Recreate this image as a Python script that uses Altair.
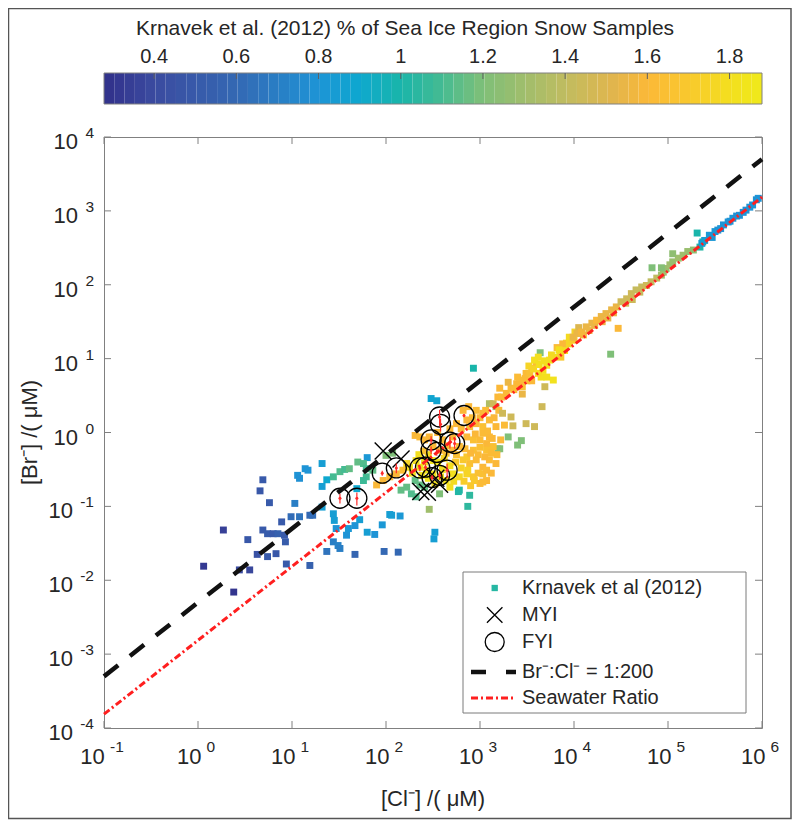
import altair as alt
import numpy as np
import pandas as pd

# ---------------- data (log10 units) ----------------
# Krnavek et al. (2012) snow samples: log10 [Cl-], log10 [Br-], % sea-ice region
krn_cl_log = [
    0.06, 0.27, 0.38, 0.44, 0.55,
    0.69, 0.66, 0.76, 0.53, 0.69, 0.74, 0.80, 0.85, 0.92, 0.89, 0.93, 0.63, 0.74, 0.83, 0.94,
    1.19, 1.03, 0.99, 1.08, 1.19, 1.22, 1.37, 1.67, 1.98, 2.13,
    1.06, 1.08, 1.14, 1.17, 1.32, 1.32, 1.37, 1.44, 1.45, 1.47, 1.44, 1.49, 1.51, 1.58, 1.60,
    1.67, 1.72, 1.80, 1.88, 1.96, 2.04, 2.06, 2.15, 1.80, 1.69, 2.52, 2.51, 2.48, 2.54, 1.32,
    2.93, 1.44, 1.51, 1.56, 1.61, 1.70, 1.76, 1.79, 1.79, 1.76, 1.86, 2.00, 2.07, 2.16, 2.22,
    2.27, 2.32, 2.31, 2.36, 2.41, 2.46, 2.57, 2.77, 2.78, 2.89, 2.87, 3.19, 3.10, 3.17, 3.30,
    3.40, 3.44, 3.21,
    1.90, 1.97, 2.04, 2.11, 2.18, 2.25, 2.32, 2.36, 2.41, 2.31, 2.36, 2.41, 2.46, 2.50, 2.57,
    2.64, 2.71, 2.78, 2.86, 2.93, 3.00, 3.07, 3.14, 2.82, 2.89, 2.96, 3.03, 3.10, 3.17, 2.71,
    2.78, 2.86, 2.93, 3.00, 3.07, 3.03, 2.64, 2.68, 2.86, 2.89, 2.96, 3.03, 3.10, 3.17, 2.82,
    2.96, 3.03, 3.14, 3.19, 2.50, 2.43, 2.50, 2.71, 3.03, 3.10, 3.07, 2.93, 2.86, 3.07, 2.87,
    2.94, 3.03,
    2.45, 2.55, 2.60, 2.62, 2.68, 2.74, 2.80, 2.75, 2.84, 2.90, 2.98, 3.05, 3.12, 3.00, 2.95,
    3.08, 3.13, 2.80, 2.75, 2.92, 3.00, 3.06, 2.88, 2.68, 2.60, 2.55, 2.65, 2.58, 2.72, 2.83,
    2.90, 2.98, 3.12, 3.18, 3.22, 3.26, 3.15, 3.20, 2.40, 2.35, 2.28, 2.22, 2.45, 2.38, 2.52,
    3.21, 3.23, 3.28, 3.33, 3.39, 3.46, 3.49, 3.55, 3.60, 3.24, 3.33, 3.35, 3.49, 3.58, 3.66,
    3.69, 3.65, 3.71, 3.78, 3.67, 3.71, 3.74, 3.79, 3.85, 3.90, 3.92, 3.95, 4.01, 3.64, 4.39,
    3.40, 3.52, 3.58, 3.62, 3.82, 3.88, 4.05, 3.30, 3.45, 3.50,
    3.36, 3.42, 3.48, 3.53, 3.57, 3.63, 3.68, 3.76, 3.84, 3.86, 3.95, 4.00, 4.10, 4.16, 4.22,
    4.30, 4.36, 4.42, 4.55, 4.62, 4.70, 3.55, 3.62, 3.45,
    3.99, 4.03, 4.08, 4.13, 4.19, 4.24, 4.29, 4.34, 4.40, 4.45, 4.47, 4.50, 4.56, 4.61, 4.66,
    4.72, 4.77, 4.82, 4.88, 4.93, 4.95, 4.98, 5.02, 5.05, 5.11, 5.16, 5.21, 5.27, 4.83, 4.93,
    5.05, 5.31, 5.37, 5.34, 5.36, 5.39, 5.44, 5.50, 5.53, 5.59, 5.64, 5.69, 5.76, 5.83, 5.90,
    5.94, 5.96, 5.47, 5.56, 5.66, 5.73, 5.80, 5.87,
]
krn_br_log = [
    -1.81, -1.32, -2.16, -1.86, -1.86,
    -0.64, -0.79, -0.95, -1.45, -1.32, -1.37, -1.37, -1.37, -1.39, -1.21, -1.48, -1.65, -1.68, -1.64, -1.78,
    -1.80, -0.96, -1.14, -1.14, -1.12, -1.12, -1.61, -1.65, -1.61, -1.62,
    -0.58, -0.62, -0.49, -0.51, -0.42, -0.73, -0.64, -1.10, -1.19, -1.30, -1.48, -1.53, -1.57, -1.39, -1.30,
    -1.26, -1.18, -1.35, -1.38, -1.25, -1.11, -1.12, -1.13, -0.34, -0.76, -1.35, -1.44, 0.46, 0.43, -1.01,
    0.87, -0.60, -0.53, -0.50, -0.49, -0.40, -0.42, -0.49, -0.60, -0.65, -0.51, -0.31, -0.28, -0.78, -0.74,
    -0.83, -0.87, -0.65, -0.71, -0.74, -1.04, -0.83, -0.80, -0.78, -0.85, -1.00, -0.22, 0.39, 0.35, -0.06,
    -0.17, -0.11, -0.22,
    -0.71, -0.65, -0.60, -0.56, -0.51, -0.47, -0.38, -0.47, -0.40, -0.04, -0.06, -0.10, -0.06, -0.19, -0.24,
    -0.28, -0.24, -0.19, -0.06, -0.10, -0.10, -0.15, -0.19, -0.37, -0.42, -0.37, -0.47, -0.37, -0.42, -0.56,
    -0.60, -0.56, -0.60, -0.69, -0.65, -0.56, -0.65, -0.74, 0.17, 0.08, 0.12, 0.08, 0.17, 0.08, 0.30,
    0.30, 0.26, 0.39, 0.48, -0.38, -0.51, -0.56, -0.06, -0.01, -0.06, -0.24, -0.24, -0.33, -0.51, -0.51,
    -0.65, -0.67,
    -0.30, -0.40, -0.50, -0.35, -0.45, -0.40, -0.48, -0.30, -0.22, -0.28, -0.30, -0.33, -0.28, -0.20, -0.02,
    0.02, -0.08, 0.05, 0.12, 0.20, 0.20, 0.30, 0.35, 0.05, -0.10, 0.00, -0.18, -0.60, -0.66, -0.66,
    -0.72, -0.55, -0.55, -0.30, -0.10, 0.10, 0.20, 0.30, -0.25, -0.30, -0.55, -0.42, -0.62, -0.58, -0.70,
    0.60, 0.48, 0.53, 0.60, 0.66, 0.71, 0.80, 0.87, 0.93, 0.26, 0.21, 0.09, 0.12, 0.08, 0.35,
    0.62, 0.75, 0.75, 0.71, 0.84, 0.91, 0.98, 1.02, 1.07, 1.11, 1.21, 1.29, 1.36, 1.08, 1.06,
    0.75, 0.90, 0.98, 1.02, 1.15, 1.20, 1.42, 0.68, 0.62, 0.70,
    0.58, 0.66, 0.73, 0.80, 0.86, 0.92, 0.97, 1.05, 1.12, 1.02, 1.20, 1.25, 1.32, 1.38, 1.45,
    1.50, 1.55, 1.62, 1.75, 1.80, 1.90, 0.70, 0.80, 0.52,
    1.29, 1.34, 1.36, 1.43, 1.48, 1.52, 1.57, 1.61, 1.66, 1.70, 1.41, 1.77, 1.81, 1.88, 1.93,
    1.97, 1.99, 2.04, 2.09, 2.13, 2.17, 2.22, 2.27, 2.31, 2.36, 2.40, 2.45, 2.47, 2.23, 2.23,
    2.42, 2.70, 2.58, 2.51, 2.56, 2.60, 2.67, 2.72, 2.74, 2.81, 2.85, 2.90, 2.94, 3.01, 3.08,
    3.15, 3.17, 2.64, 2.76, 2.86, 2.93, 2.98, 3.05,
]
krn_pct = [
    0.32, 0.35, 0.30, 0.40, 0.38,
    0.50, 0.48, 0.50, 0.48, 0.50, 0.52, 0.50, 0.55, 0.50, 0.50, 0.52, 0.45, 0.50, 0.48, 0.50,
    0.55, 0.70, 0.62, 0.65, 0.60, 0.62, 0.65, 0.58, 0.60, 0.60,
    0.80, 0.78, 0.80, 0.80, 0.85, 0.85, 0.90, 0.85, 0.85, 0.80, 0.70, 0.72, 0.70, 0.80, 0.82,
    0.80, 0.85, 0.85, 0.80, 0.82, 0.85, 0.85, 0.82, 0.82, 0.90, 0.85, 0.85, 0.88, 0.88, 0.85,
    1.00, 1.10, 1.12, 1.10, 1.15, 1.15, 1.12, 1.10, 1.10, 1.08, 1.15, 1.20, 1.20, 1.15, 1.15,
    1.12, 1.12, 1.15, 1.15, 1.15, 1.30, 1.20, 1.02, 1.02, 1.05, 1.05, 1.25, 1.35, 1.30, 1.20,
    1.20, 1.20, 1.22,
    1.60, 1.60, 1.62, 1.60, 1.65, 1.80, 1.80, 1.82, 1.80, 1.60, 1.62, 1.60, 1.60, 1.62, 1.60,
    1.65, 1.60, 1.62, 1.60, 1.65, 1.62, 1.60, 1.65, 1.70, 1.65, 1.62, 1.60, 1.62, 1.60, 1.80,
    1.78, 1.75, 1.70, 1.62, 1.60, 1.65, 1.82, 1.80, 1.60, 1.62, 1.60, 1.65, 1.62, 1.60, 1.60,
    1.62, 1.60, 1.45, 1.60, 1.82, 1.85, 1.82, 1.60, 1.62, 1.60, 1.65, 1.65, 1.70, 1.62, 1.75,
    1.70, 1.62,
    1.80, 1.82, 1.80, 1.75, 1.80, 1.70, 1.75, 1.65, 1.62, 1.60, 1.62, 1.60, 1.62, 1.65, 1.60,
    1.62, 1.60, 1.62, 1.60, 1.62, 1.60, 1.62, 1.60, 1.60, 1.62, 1.60, 1.65, 1.82, 1.78, 1.72,
    1.70, 1.65, 1.60, 1.62, 1.60, 1.62, 1.60, 1.62, 1.65, 1.80, 1.80, 1.75, 1.85, 1.82, 1.80,
    1.60, 1.62, 1.60, 1.62, 1.60, 1.65, 1.62, 1.65, 1.62, 1.45, 1.45, 1.45, 1.45, 1.45, 1.45,
    1.45, 1.80, 1.80, 1.82, 1.80, 1.82, 1.80, 1.80, 1.82, 1.80, 1.80, 1.78, 1.75, 1.20, 1.20,
    1.62, 1.75, 1.80, 1.80, 1.62, 1.60, 1.50, 1.55, 1.65, 1.60,
    1.62, 1.60, 1.62, 1.65, 1.75, 1.80, 1.80, 1.78, 1.80, 1.70, 1.75, 1.70, 1.58, 1.55, 1.55,
    1.55, 1.55, 1.55, 1.45, 1.45, 1.42, 1.60, 1.78, 1.55,
    1.55, 1.55, 1.58, 1.55, 1.55, 1.60, 1.55, 1.55, 1.55, 1.55, 1.60, 1.45, 1.45, 1.45, 1.42,
    1.42, 1.45, 1.40, 1.40, 1.30, 1.30, 1.28, 1.30, 1.28, 1.30, 1.30, 1.28, 1.25, 1.20, 1.22,
    1.25, 1.00, 1.00, 1.02, 0.85, 0.85, 0.82, 0.82, 0.80, 0.80, 0.80, 0.80, 0.78, 0.80, 0.80,
    0.78, 0.80, 0.82, 0.80, 0.80, 0.78, 0.80, 0.80,
]

# multi-year ice (MYI) samples
myi_cl_log = [1.97, 2.16, 2.37, 2.44, 2.57, 2.53]
myi_br_log = [-0.25, -0.36, -0.80, -0.81, -0.70, -0.62]

# first-year ice (FYI) samples with relative Br- uncertainty
fyi_cl_log = [1.51, 1.69, 1.96, 2.11, 2.36, 2.48, 2.54, 2.48, 2.57, 2.58, 2.83, 2.68, 2.73, 2.49, 2.57, 2.65, 2.42]
fyi_br_log = [-0.89, -0.89, -0.55, -0.48, -0.48, -0.24, -0.27, -0.10, 0.21, 0.11, 0.23, -0.13, -0.15, -0.61, -0.58, -0.51, -0.47]
fyi_err = [0.15, 0.20, 0.08, 0.15, 0.10, 0.12, 0.10, 0.12, 0.25, 0.20, 0.05, 0.18, 0.15, 0.08, 0.12, 0.22, 0.10]

# reference ratios (molar Br-:Cl-)
RATIO_1_200 = 1 / 200
RATIO_SEAWATER = 1 / 650

# axes
X_DOMAIN = [1e-1, 1e6]
Y_DOMAIN = [1e-4, 1e4]
X_TICK_EXP = [-1, 0, 1, 2, 3, 4, 5, 6]
Y_TICK_EXP = [-4, -3, -2, -1, 0, 1, 2, 3, 4]

# colour bar
CB_RANGE = [0.278, 1.879]
CB_TICKS = [0.4, 0.6, 0.8, 1.0, 1.2, 1.4, 1.6, 1.8]
CB_LABELS = ["0.4", "0.6", "0.8", "1", "1.2", "1.4", "1.6", "1.8"]
CB_TITLE = "Krnavek et al. (2012) % of Sea Ice Region Snow Samples"
C_STOPS = [0.278, 0.40, 0.60, 0.80, 0.90, 1.00, 1.10, 1.20, 1.40, 1.52, 1.60, 1.70, 1.80, 1.879]
C_COLORS = ["#31308a", "#3b4ba0", "#3468b3", "#1e94d6", "#0ea8cf", "#19b5aa", "#45bb92",
            "#7fbf78", "#c0bc60", "#e2b54c", "#fbb838", "#f9c82d", "#f3df1f", "#f0ea1a"]

LEGEND_LABELS = ["Krnavek et al (2012)", "MYI", "FYI", "Br\u207b:Cl\u207b = 1:200", "Seawater Ratio"]
X_TITLE = "[Cl\u207b] /( \u03bcM)"
Y_TITLE = "[Br\u207b] /( \u03bcM)"

# ---------------- layout / style ----------------
W, H = 658, 591
FONT = "Liberation Sans"
TXT = "#262626"
AXC = "#808080"

xs = alt.Scale(type="log", domain=X_DOMAIN)
ys = alt.Scale(type="log", domain=Y_DOMAIN)
cs = alt.Scale(domain=C_STOPS, range=C_COLORS, interpolate="rgb")
cbs = alt.Scale(domain=CB_RANGE, zero=False, nice=False)

krn = pd.DataFrame({"cl": np.power(10.0, krn_cl_log), "br": np.power(10.0, krn_br_log), "pct": krn_pct})
myi = pd.DataFrame({"cl": np.power(10.0, myi_cl_log), "br": np.power(10.0, myi_br_log)})
fyi = pd.DataFrame({"cl": np.power(10.0, fyi_cl_log), "br": np.power(10.0, fyi_br_log)})
fyi["lo"] = fyi["br"] * (1 - np.array(fyi_err))
fyi["hi"] = fyi["br"] * (1 + np.array(fyi_err))

line_df = pd.DataFrame({"cl": X_DOMAIN})
line_df["b200"] = line_df["cl"] * RATIO_1_200
line_df["bsw"] = line_df["cl"] * RATIO_SEAWATER

xt = pd.DataFrame({"v": [10.0 ** e for e in X_TICK_EXP], "e": [str(e) for e in X_TICK_EXP], "neg": [e < 0 for e in X_TICK_EXP]})
yt = pd.DataFrame({"v": [10.0 ** e for e in Y_TICK_EXP], "e": [str(e) for e in Y_TICK_EXP], "neg": [e < 0 for e in Y_TICK_EXP]})
xt["b"] = "10"
yt["b"] = "10"
one = pd.DataFrame({"a": [0]})

X = lambda f: alt.X(f, scale=xs, axis=None)
Y = lambda f: alt.Y(f, scale=ys, axis=None)

squares = alt.Chart(krn).mark_square(size=48, opacity=1).encode(
    x=X("cl:Q"), y=Y("br:Q"), color=alt.Color("pct:Q", scale=cs, legend=None))

crosses = alt.Chart(myi).mark_point(shape="M-1,-1L1,1M-1,1L1,-1", size=289, filled=False,
                                    color="black", strokeWidth=1.4, opacity=1).encode(x=X("cl:Q"), y=Y("br:Q"))
circles = alt.Chart(fyi).mark_point(shape="circle", size=400, filled=False, color="black",
                                    strokeWidth=1.3, opacity=1).encode(x=X("cl:Q"), y=Y("br:Q"))
errbars = alt.Chart(fyi).mark_rule(color="#ff2a2a", strokeWidth=1.2).encode(x=X("cl:Q"), y=Y("lo:Q"), y2="hi:Q")
dots = alt.Chart(fyi).mark_circle(size=9, color="#ff2a2a", opacity=1).encode(x=X("cl:Q"), y=Y("br:Q"))

l200 = alt.Chart(line_df).mark_line(color="#111111", strokeWidth=4.5, strokeDash=[18, 15]).encode(
    x=X("cl:Q"), y=Y("b200:Q"))
lsw = alt.Chart(line_df).mark_line(color="#ff1f1f", strokeWidth=3, strokeDash=[7, 3, 2, 3]).encode(
    x=X("cl:Q"), y=Y("bsw:Q"))

# inward ticks on all four sides
xt_b = alt.Chart(xt).mark_rule(color=AXC).encode(x=X("v:Q"), y=alt.value(H), y2=alt.value(H - 7))
xt_t = alt.Chart(xt).mark_rule(color=AXC).encode(x=X("v:Q"), y=alt.value(0), y2=alt.value(7))
yt_l = alt.Chart(yt).mark_rule(color=AXC).encode(y=Y("v:Q"), x=alt.value(0), x2=alt.value(7))
yt_r = alt.Chart(yt).mark_rule(color=AXC).encode(y=Y("v:Q"), x=alt.value(W), x2=alt.value(W - 7))

# tick labels 10^n
xl_base_p = alt.Chart(xt[~xt.neg]).mark_text(align="right", baseline="alphabetic", fontSize=22, font=FONT,
                                             color=TXT, dx=3.4).encode(x=X("v:Q"), y=alt.value(H + 36), text="b:N")
xl_base_n = alt.Chart(xt[xt.neg]).mark_text(align="right", baseline="alphabetic", fontSize=22, font=FONT,
                                            color=TXT, dx=0.7).encode(x=X("v:Q"), y=alt.value(H + 36), text="b:N")
xl_sup_p = alt.Chart(xt[~xt.neg]).mark_text(align="left", baseline="alphabetic", fontSize=15.5, font=FONT,
                                            color=TXT, dx=8.4).encode(x=X("v:Q"), y=alt.value(H + 24), text="e:N")
xl_sup_n = alt.Chart(xt[xt.neg]).mark_text(align="left", baseline="alphabetic", fontSize=15.5, font=FONT,
                                           color=TXT, dx=6).encode(x=X("v:Q"), y=alt.value(H + 24), text="e:N")
yl_base_p = alt.Chart(yt[~yt.neg]).mark_text(align="right", baseline="alphabetic", fontSize=22, font=FONT,
                                             color=TXT, dy=12).encode(y=Y("v:Q"), x=alt.value(-26), text="b:N")
yl_base_n = alt.Chart(yt[yt.neg]).mark_text(align="right", baseline="alphabetic", fontSize=22, font=FONT,
                                            color=TXT, dy=12).encode(y=Y("v:Q"), x=alt.value(-31), text="b:N")
yl_sup = alt.Chart(yt).mark_text(align="right", baseline="alphabetic", fontSize=15.5, font=FONT,
                                 color=TXT, dy=1).encode(y=Y("v:Q"), x=alt.value(-10), text="e:N")

x_title = alt.Chart(pd.DataFrame({"t": [X_TITLE]})).mark_text(
    align="center", baseline="alphabetic", fontSize=22, font=FONT, color=TXT).encode(
    x=alt.value(W / 2), y=alt.value(H + 78), text="t:N")
y_title = alt.Chart(pd.DataFrame({"t": [Y_TITLE]})).mark_text(
    align="center", baseline="middle", angle=270, fontSize=22, font=FONT, color=TXT).encode(
    x=alt.value(-74), y=alt.value(H / 2), text="t:N")

# in-plot legend
LX0, LX1, LY0, LY1 = 359, 642, 435, 576
ROW = [451, 478, 505, 535, 561]
SYM_X, TXT_X, LN0, LN1 = 390.7, 418, 367, 412
leg_box = alt.Chart(one).mark_rect(fill="white", stroke="#7a7a7a", strokeWidth=1).encode(
    x=alt.value(LX0), x2=alt.value(LX1), y=alt.value(LY0), y2=alt.value(LY1))
leg_sq = alt.Chart(pd.DataFrame({"pct": [1.03]})).mark_square(size=40, opacity=1).encode(
    x=alt.value(SYM_X), y=alt.value(ROW[0]), color=alt.Color("pct:Q", scale=cs, legend=None))
leg_x = alt.Chart(one).mark_point(shape="M-1,-1L1,1M-1,1L1,-1", size=240, filled=False, color="black",
                                  strokeWidth=1.3, opacity=1).encode(x=alt.value(SYM_X), y=alt.value(ROW[1]))
leg_o = alt.Chart(one).mark_point(shape="circle", size=360, filled=False, color="black",
                                  strokeWidth=1.3, opacity=1).encode(x=alt.value(SYM_X), y=alt.value(ROW[2]))
leg_l1 = alt.Chart(one).mark_rule(color="#111111", strokeWidth=4.5, strokeDash=[15, 20]).encode(
    x=alt.value(LN0), x2=alt.value(LN1), y=alt.value(ROW[3]))
leg_l2 = alt.Chart(one).mark_rule(color="#ff1f1f", strokeWidth=3, strokeDash=[7, 3, 2, 3]).encode(
    x=alt.value(LN0), x2=alt.value(LN1), y=alt.value(ROW[4]))
leg_txt = [
    alt.Chart(pd.DataFrame({"t": [lab]})).mark_text(align="left", baseline="middle", fontSize=20,
                                                   font=FONT, color=TXT).encode(
        x=alt.value(TXT_X), y=alt.value(ry), text="t:N")
    for lab, ry in zip(LEGEND_LABELS, ROW)
]

frame = alt.Chart(one).mark_rect(filled=False, stroke="#555555", strokeWidth=1.5).encode(
    x=alt.value(-95.5), x2=alt.value(W + 29), y=alt.value(-128.5), y2=alt.value(H + 90.5))

cb_title = alt.Chart(pd.DataFrame({"t": [CB_TITLE]})).mark_text(
    align="center", baseline="alphabetic", fontSize=21, font=FONT, color=TXT).encode(
    x=alt.value(301), y=alt.value(-102), text="t:N")

main = alt.layer(
    frame, squares, crosses, circles, errbars, dots, l200, lsw,
    xt_b, xt_t, yt_l, yt_r,
    xl_base_p, xl_base_n, xl_sup_p, xl_sup_n, yl_base_p, yl_base_n, yl_sup,
    x_title, y_title, cb_title,
    leg_box, leg_sq, leg_x, leg_o, leg_l1, leg_l2, *leg_txt,
)

# colour bar (its own x scale)
edges = np.linspace(CB_RANGE[0], CB_RANGE[1], 65)
cb_df = pd.DataFrame({"lo": edges[:-1], "hi": edges[1:], "mid": (edges[:-1] + edges[1:]) / 2})
cb_t = pd.DataFrame({"v": CB_TICKS, "lab": CB_LABELS})
CBX = lambda f: alt.X(f, scale=cbs, axis=None)
cb_rect = alt.Chart(cb_df).mark_rect().encode(
    x=CBX("lo:Q"), x2="hi:Q", y=alt.value(-64), y2=alt.value(-33),
    color=alt.Color("mid:Q", scale=cs, legend=None))
cb_box = alt.Chart(pd.DataFrame({"lo": [CB_RANGE[0]], "hi": [CB_RANGE[1]]})).mark_rect(
    filled=False, stroke=AXC, strokeWidth=1).encode(x=CBX("lo:Q"), x2="hi:Q", y=alt.value(-64), y2=alt.value(-33))
cb_ticks = alt.Chart(cb_t).mark_rule(color="#606060").encode(x=CBX("v:Q"), y=alt.value(-64), y2=alt.value(-58))
cb_labels = alt.Chart(cb_t).mark_text(align="center", baseline="alphabetic", fontSize=20, font=FONT,
                                      color=TXT).encode(x=CBX("v:Q"), y=alt.value(-74), text="lab:N")
cbar = alt.layer(cb_rect, cb_box, cb_ticks, cb_labels)

chart = alt.layer(main, cbar).resolve_scale(x="independent").properties(
    width=W, height=H,
    autosize=alt.AutoSizeParams(type="none"),
    padding={"left": 96, "top": 129, "right": 30, "bottom": 92},
    background="white",
).configure_view(stroke=AXC, strokeWidth=1)

chart.save("out.html", embed_options={"renderer": "svg", "actions": False})
